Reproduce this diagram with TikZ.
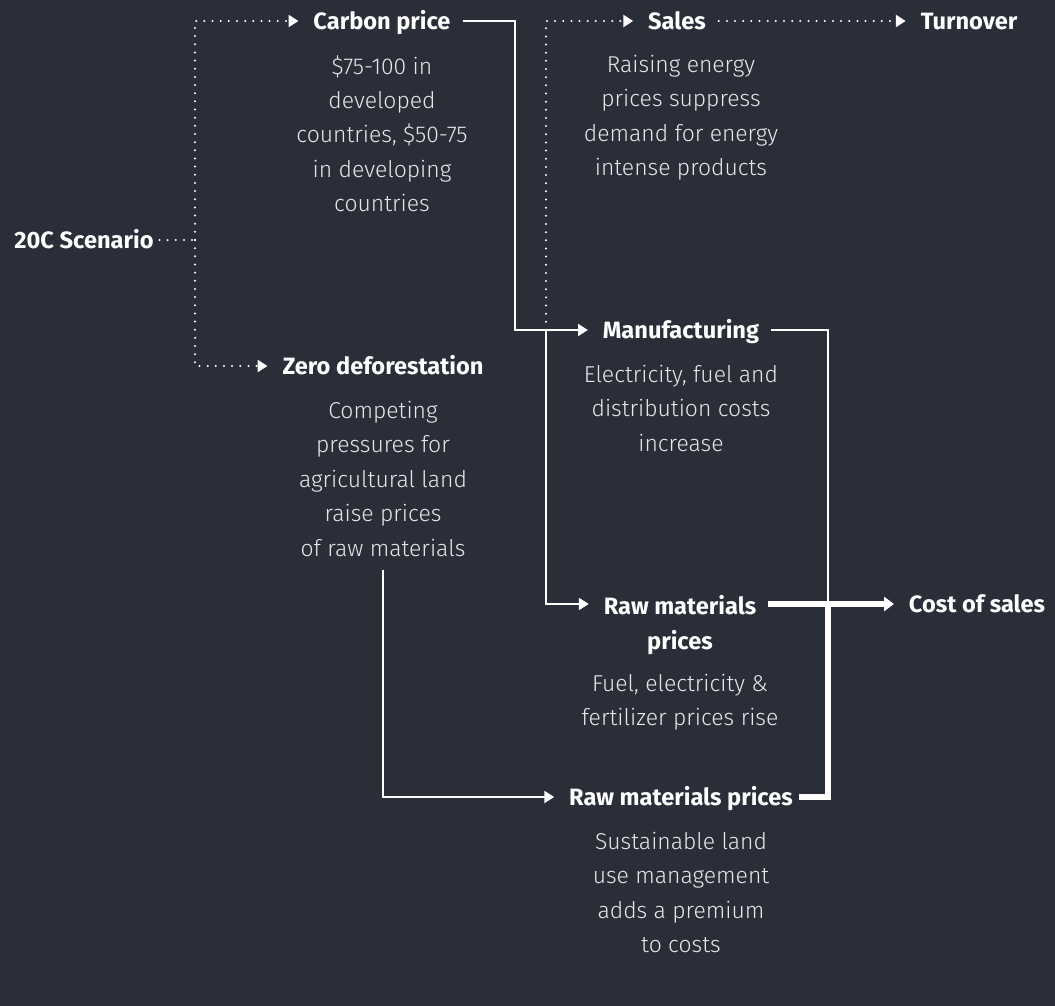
\documentclass[tikz,border=0pt]{standalone}
\usepackage{fontspec}
\setmainfont{Fira Sans}
\newfontfamily\lightfont{Fira Sans Light}
\usetikzlibrary{positioning,arrows.meta}
\definecolor{bgdark}{HTML}{292E38}
\definecolor{desctext}{HTML}{E8E8E9}
\tikzset{
    title/.style={font=\bfseries\fontsize{16.8}{20}\selectfont, text=white, inner sep=4pt, text height=12pt, text depth=0pt},
    titlestack/.style={font=\bfseries\fontsize{16.8}{25}\selectfont, text=white, inner sep=4pt, align=center},
    desc/.style={font=\lightfont\fontsize{16.3}{24.5}\selectfont, text=desctext, align=center, inner sep=0pt, anchor=north},
    link/.style={draw=white, line width=1.4pt},
    heavylink/.style={draw=white, line width=4.2pt},
    dotlink/.style={draw=white, line width=1.6pt, line cap=round, dash pattern=on 0pt off 5.8pt},
    tip/.style={-{Triangle[length=7pt,width=8.5pt]}, shorten >=6.5pt},
    heavytip/.style={-{Triangle[length=7pt,width=10pt]}, shorten >=6.5pt},
}
\begin{document}
\begin{tikzpicture}[x=0.025cm, y=-0.025cm]
    \fill[bgdark] (0,0) rectangle (1055,1006);

    % titles
    \node[title] (scen)   at (84,240)  {20C Scenario};
    \node[title] (carbon) at (382,21)  {Carbon price};
    \node[title] (sales)  at (677,21)  {Sales};
    \node[title] (turn)   at (969,21)  {Turnover};
    \node[title] (manuf)  at (681,330) {Manufacturing};
    \node[title] (zero)   at (383,366) {Zero deforestation};
    \node[titlestack, anchor=north] (rawm) at (680,589) {Raw materials\\prices};
    \node[title] (costs)  at (977,604) {Cost of sales};
    \node[title] (rawb)   at (681,797) {Raw materials prices};

    % descriptions
    \node[desc] (carbondesc) at (382,55)  {\$75-100 in\\developed\\countries, \$50-75\\in developing\\countries};
    \node[desc] (salesdesc)  at (681,55)  {Raising energy\\prices suppress\\demand for energy\\intense products};
    \node[desc] (manufdesc)  at (681,365) {Electricity, fuel and\\distribution costs\\increase};
    \node[desc] (zerodesc)   at (383,401) {Competing\\pressures for\\agricultural land\\raise prices\\of raw materials};
    \node[desc] (rawmdesc)   at (680,674) {Fuel, electricity \&\\fertilizer prices rise};
    \node[desc] (rawbdesc)   at (681,832) {Sustainable land\\use management\\adds a premium\\to costs};

    % junctions
    \coordinate (fork)  at (195,240);
    \coordinate (split) at (546,330);
    \coordinate (merge) at (828,604);

    % scenario branches
    \draw[dotlink] (scen.east) -- (fork);
    \draw[dotlink, tip] (fork) |- (carbon.west);
    \draw[dotlink, tip] (fork) |- (zero.west);
    \draw[dotlink, tip] (split) |- (sales.west);
    \draw[dotlink, tip, shorten <=5pt] (sales.east) -- (turn.west);

    % cost paths
    \draw[link, tip, shorten <=4.5pt] (carbon.east) -- ++(59,0) |- (manuf.west);
    \draw[link, tip] (split) |- (rawm.west |- costs);
    \draw[link, shorten <=4.5pt] (manuf.east) -| (merge);
    \draw[link, tip, shorten <=9pt] (zerodesc.south) |- (rawb.west);
    \draw[heavylink] (rawb.east) -| (merge);
    \draw[heavylink, heavytip, shorten <=4.5pt] (rawm.east |- costs) -- (costs.west);
\end{tikzpicture}
\end{document}
